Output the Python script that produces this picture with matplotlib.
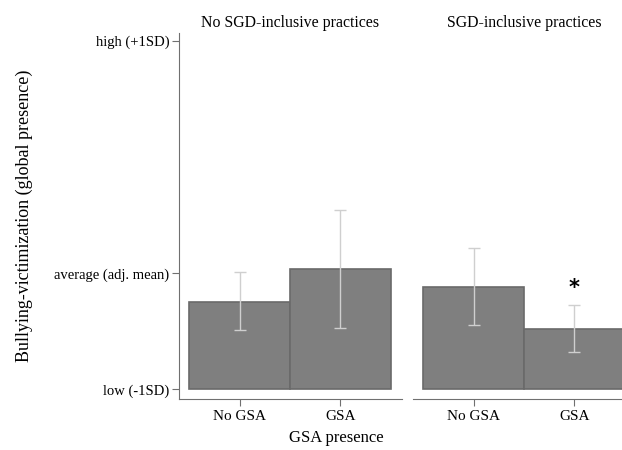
import matplotlib
matplotlib.use("Agg")
import matplotlib.pyplot as plt

plt.rcParams['font.family'] = ['Liberation Serif', 'DejaVu Serif']

# Data (scale: low=-1SD -> 0, adj. mean -> 1, high=+1SD -> 3)
panels = ["No SGD-inclusive practices", "SGD-inclusive practices"]
categories = ["No GSA", "GSA"]
bar_values = [[0.75, 1.034], [0.884, 0.52]]
ci_low = [[0.511, 0.531], [0.554, 0.319]]
ci_high = [[1.009, 1.546], [1.221, 0.729]]
significant = [[False, False], [False, True]]
ytick_values = [0, 1, 3]
ytick_labels = ["low (-1SD)", "average (adj. mean)", "high (+1SD)"]

W, H = 622, 450
fig = plt.figure(figsize=(W / 100, H / 100), dpi=100)

def px_axes(x0, x1, ytop, ybot):
    return fig.add_axes([x0 / W, 1 - ybot / H, (x1 - x0) / W, (ybot - ytop) / H])

ax_spec = [(179, 402), (413, 636)]
bar_color = "#7f7f7f"
edge_color = "#6a6a6a"
err_color = "#cfcfcf"
axis_color = "#707070"

for i, (x0, x1) in enumerate(ax_spec):
    ax = px_axes(x0, x1, 33, 399.3)
    xs = list(range(len(categories)))
    ax.bar(xs, bar_values[i], width=1.0, color=bar_color, edgecolor=edge_color,
           linewidth=1.2, zorder=2)
    for j, x in enumerate(xs):
        ax.errorbar(x, bar_values[i][j],
                    yerr=[[bar_values[i][j] - ci_low[i][j]], [ci_high[i][j] - bar_values[i][j]]],
                    fmt='none', ecolor=err_color, elinewidth=1.0, capsize=4, capthick=1.0,
                    zorder=3)
        if significant[i][j]:
            ax.text(x, ci_high[i][j] + 0.14, "*", ha='center', va='center',
                    fontsize=15, fontweight='bold', family='DejaVu Sans', zorder=4)
    ax.set_xlim(-0.6, 1.61)
    ax.set_ylim(-0.086, 3.07)
    ax.set_xticks(xs)
    ax.set_xticklabels(categories, fontsize=11)
    ax.spines['top'].set_visible(False)
    ax.spines['right'].set_visible(False)
    ax.spines['bottom'].set_color(axis_color)
    ax.spines['left'].set_color(axis_color)
    ax.tick_params(axis='x', length=5, color=axis_color, pad=3)
    ax.tick_params(axis='y', length=5, color=axis_color, pad=2)
    if i == 0:
        ax.set_yticks(ytick_values)
        ax.set_yticklabels(ytick_labels, fontsize=10.5)
    else:
        ax.spines['left'].set_visible(False)
        ax.set_yticks([])
    ax.set_title(panels[i], fontsize=11.4, pad=4)
    ax.patch.set_alpha(0)

fig.text(336 / W, 1 - 438 / H, "GSA presence", ha='center', va='center', fontsize=12)
fig.text(24 / W, 1 - 215.5 / H, "Bullying-victimization (global presence)", ha='center',
         va='center', rotation=90, fontsize=13)

fig.savefig("out.png", dpi=100)
